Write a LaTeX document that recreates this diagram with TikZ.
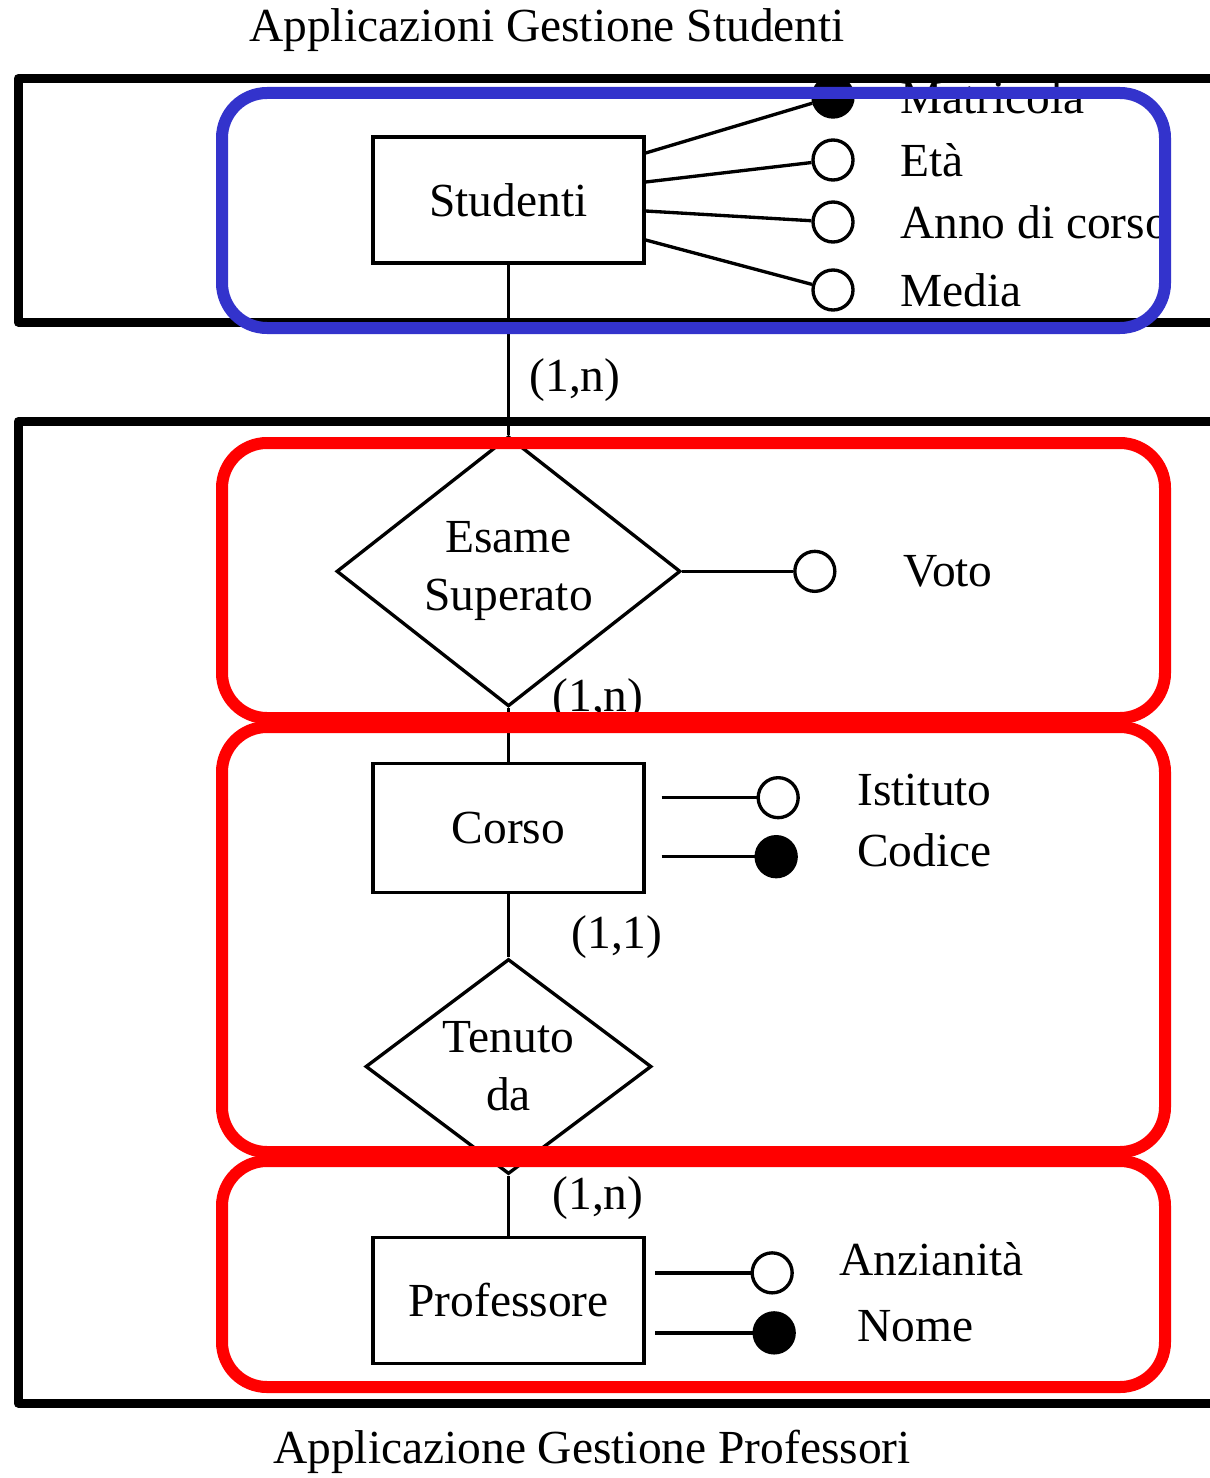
\documentclass[tikz,border=0pt]{standalone}
\usepackage{fontspec}
\setmainfont{Liberation Serif}
\usetikzlibrary{positioning}
\usetikzlibrary{shapes.geometric}
\definecolor{groupblue}{RGB}{51,51,204}
\definecolor{groupred}{RGB}{255,0,0}
\tikzset{
  node distance= 0.5cm and 1cm,
  entity/.style = {rectangle,
                   draw,
                   line width = 1.9pt,
                   minimum width = 5.42cm,
                   minimum height = 2.52cm,
                   inner sep = 0},
  relation/.style = {diamond,
                     draw,
                     line width = 1.9pt,
                     align = center,
                     inner sep = 0},
  attribute/.style = {circle,
                      draw,
                      fill = white,
                      line width = 1.9pt,
                      minimum size = 0.8cm,
                      inner sep = 0},
  keyattr/.style = {attribute,
                    fill = black},
  attrname/.style = {inner sep = 0},
  card/.style = {inner sep = 0},
  conn/.style = {line width = 1.9pt},
  frame/.style = {line width = 0.18cm,
                  line join = round},
  group/.style = {rounded corners = 0.9cm,
                  line width = 0.24cm}
}

\begin{document}
\begin{tikzpicture}[font = \fontsize{27}{33}\selectfont]

\useasboundingbox (0,0) rectangle (24.18,-29.56);

\node(title-top) at (10.94,-0.6){Applicazioni Gestione Studenti};
\node(title-bottom) at (11.84,-29.04){Applicazione Gestione Professori};

% main chain
\node[entity](studenti) at (10.17,-4.0){Studenti};

\node[relation, aspect = 1.3, minimum width = 6.88cm, minimum height = 5.4cm](esame)[below = 3.4cm of studenti]{Esame\\Superato}
  edge[conn](studenti);

\node[entity, minimum height = 2.58cm](corso)[below = 1.08cm of esame]{Corso}
  edge[conn](esame);

\node[relation, aspect = 1.36, minimum width = 5.72cm, minimum height = 4.3cm](tenuto)[below = 1.26cm of corso]{Tenuto\\da}
  edge[conn](corso);

\node[entity](professore)[below = 1.2cm of tenuto]{Professore}
  edge[conn](tenuto);

% cardinalities
\node[card](card-studenti) at (11.5,-7.6){(1,n)};
\node[card](card-corso) at (11.96,-14.0){(1,n)};
\node[card](card-tenuto) at (12.34,-18.74){(1,1)};
\node[card](card-professore) at (11.96,-23.96){(1,n)};

% attributes of Studenti
\node[keyattr](matricola) at (16.66,-1.94){};
\node[attribute](eta) at (16.66,-3.2){};
\node[attribute](anno) at (16.66,-4.44){};
\node[attribute](media) at (16.66,-5.8){};
\draw[conn] ([yshift = 0.94cm]studenti.east) -- (matricola);
\draw[conn] ([yshift = 0.36cm]studenti.east) -- (eta);
\draw[conn] ([yshift = -0.22cm]studenti.east) -- (anno);
\draw[conn] ([yshift = -0.8cm]studenti.east) -- (media);
\node[attrname](matricola-name)[right = 0.9cm of matricola]{Matricola};
\node[attrname](eta-name)[right = 0.9cm of eta]{Età};
\node[attrname](anno-name)[right = 0.9cm of anno]{Anno di corso};
\node[attrname](media-name)[right = 0.9cm of media]{Media};

% attribute of Esame Superato
\node[attribute](voto)[right = 2.22cm of esame]{}
  edge[conn](esame);
\node[attrname](voto-name)[right = 1.34cm of voto]{Voto};

% attributes of Corso
\node[attribute](istituto) at ([xshift = 2.65cm, yshift = 0.61cm]corso.east){};
\node[keyattr](codice) at ([xshift = 2.61cm, yshift = -0.57cm]corso.east){};
\draw[conn] ([xshift = 0.32cm, yshift = 0.61cm]corso.east) -- (istituto);
\draw[conn] ([xshift = 0.32cm, yshift = -0.57cm]corso.east) -- (codice);
\node[attrname](istituto-name)[right = 1.14cm of istituto, yshift = 0.16cm]{Istituto};
\node[attrname](codice-name)[right = 1.18cm of codice, yshift = 0.12cm]{Codice};

% attributes of Professore
\node[attribute](anzianita) at ([xshift = 2.53cm, yshift = 0.55cm]professore.east){};
\node[keyattr](nome) at ([xshift = 2.57cm, yshift = -0.65cm]professore.east){};
\draw[conn] ([xshift = 0.19cm, yshift = 0.55cm]professore.east) -- (anzianita);
\draw[conn] ([xshift = 0.19cm, yshift = -0.65cm]professore.east) -- (nome);
\node[attrname](anzianita-name)[right = 0.9cm of anzianita, yshift = 0.28cm]{Anzianità};
\node[attrname](nome-name)[right = 1.22cm of nome, yshift = 0.14cm]{Nome};

% application frames
\draw[frame] (24.4,-1.57) -- (0.36,-1.57) -- (0.36,-6.44) -- (24.4,-6.44);
\draw[frame] (24.4,-8.43) -- (0.36,-8.43) -- (0.36,-28.06) -- (24.4,-28.06);

% highlighted groups
\draw[group, groupblue] (4.44,-1.86) rectangle (23.3,-6.56);
\draw[group, groupred] (4.44,-8.86) rectangle (23.3,-14.36);
\draw[group, groupred] (4.44,-14.54) rectangle (23.3,-23.04);
\draw[group, groupred] (4.44,-23.22) rectangle (23.3,-27.74);

\end{tikzpicture}
\end{document}
